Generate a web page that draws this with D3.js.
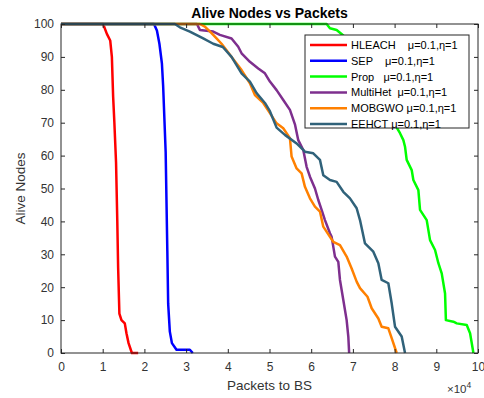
<!DOCTYPE html>
<html>
<head>
<meta charset="utf-8">
<script src="https://cdn.jsdelivr.net/npm/d3@7"></script>
<style>
  body { margin: 0; background: #fff; }
  text { font-family: "Liberation Sans", Arial, sans-serif; }
</style>
</head>
<body>
<div id="vis"></div>
<script>
// Data (x in units of 10^4 packets, y = alive nodes)
let hleach = [[0,100],[1.01,100],[1.10,97],[1.18,95],[1.22,90],[1.25,78],[1.28,70],[1.32,58],[1.35,40],[1.37,26],[1.40,12],[1.45,10],[1.53,9],[1.57,6],[1.62,3],[1.70,0],[1.85,0]];
let sep = [[0,100],[2.23,100],[2.30,98],[2.36,94],[2.42,88],[2.45,81],[2.51,61],[2.55,31],[2.57,15],[2.61,6.5],[2.66,3],[2.77,1],[3.09,1],[3.16,0]];
let prop = [[0,100],[6.37,100],[6.45,98.7],[6.61,98.2],[6.77,96.5],[7.2,88],[7.7,76],[8.13,66.8],[8.21,64.7],[8.25,62.7],[8.29,58.7],[8.41,55.6],[8.45,52.6],[8.57,49.5],[8.61,43.5],[8.77,40.4],[8.85,34.3],[8.97,31.3],[9.05,27.3],[9.13,24.2],[9.21,18.1],[9.23,10],[9.41,9.5],[9.49,9],[9.73,8.5],[9.81,6],[9.89,0]];
let multihet = [[0,100],[3.26,100],[3.33,98.2],[3.65,97.7],[3.81,96.7],[4.09,95.6],[4.25,93.1],[4.33,91.1],[4.53,88.5],[4.73,86.5],[4.89,85],[5.01,82.5],[5.17,79.9],[5.33,76.9],[5.49,73.9],[5.61,69.5],[5.69,64.7],[5.81,61.7],[5.89,56.6],[5.97,53.6],[6.09,50],[6.17,46.5],[6.25,43.5],[6.33,40.4],[6.45,36.4],[6.49,35.3],[6.57,29.3],[6.65,27.7],[6.69,22.2],[6.77,16.1],[6.85,10],[6.89,5],[6.91,0]];
let mobgwo = [[0,100],[3.33,100],[3.45,99.2],[3.61,97.2],[3.73,95.6],[3.85,94],[3.97,92],[4.09,90],[4.21,88],[4.33,86],[4.53,82],[4.65,78.4],[4.85,76],[5.01,72.9],[5.17,69.8],[5.33,68.3],[5.49,65.3],[5.53,59.7],[5.65,56.1],[5.77,54.6],[5.85,50.5],[5.97,47],[6.09,44.5],[6.21,43],[6.29,38.4],[6.45,35.3],[6.53,33.8],[6.69,32.8],[6.85,29.3],[6.97,25.7],[7.09,21.7],[7.17,19.7],[7.35,17.1],[7.45,13.6],[7.61,10.5],[7.69,8],[7.85,7.5],[7.93,4.5],[8.05,0]];
let eehct = [[0,100],[2.73,100],[2.85,99],[3.09,97.7],[3.41,95.6],[3.65,94],[3.88,93],[4.09,90],[4.21,87.5],[4.33,85],[4.53,82.5],[4.69,79],[4.89,76],[5.01,73.5],[5.17,68.5],[5.37,66.3],[5.65,63.7],[5.85,61.2],[6.05,60.7],[6.21,58.7],[6.29,54],[6.45,52.6],[6.61,52],[6.77,49],[6.93,47],[7.09,44],[7.17,40.4],[7.29,33.3],[7.49,30.8],[7.61,27.3],[7.69,22.2],[7.85,21.2],[7.93,15.1],[8.01,8],[8.17,5],[8.25,0]];

let seriesNames = ['HLEACH    \u03bc=0.1,\u03b7=1', 'SEP    \u03bc=0.1,\u03b7=1', 'Prop   \u03bc=0.1,\u03b7=1', 'MultiHet  \u03bc=0.1,\u03b7=1', 'MOBGWO \u03bc=0.1,\u03b7=1', 'EEHCT \u03bc=0.1,\u03b7=1'];
let seriesColors = ['#ff0000', '#0000ff', '#00ff00', '#7e2f8e', '#ff8000', '#30627a'];
let seriesData = [hleach, sep, prop, multihet, mobgwo, eehct];

let xTicks = d3.range(0, 11, 1);
let yTicks = d3.range(0, 101, 10);

// SVG
let width = 484, height = 398;
let margin = { top: 24, bottom: 45, left: 61, right: 6 };

let svg = d3.select('#vis')
  .append('svg')
  .attr('width', width)
  .attr('height', height);

// Scales
let xScale = d3.scaleLinear()
  .domain([0, 10])
  .range([margin.left, width - margin.right]);

let yScale = d3.scaleLinear()
  .domain([0, 100])
  .range([height - margin.bottom, margin.top]);

let axisColor = '#262626';

// Lines
let line = d3.line()
  .x(function(d) { return xScale(d[0]); })
  .y(function(d) { return yScale(d[1]); });

svg.append('clipPath').attr('id', 'clip')
  .append('rect')
    .attr('x', margin.left - 2)
    .attr('y', margin.top - 2)
    .attr('width', width - margin.left - margin.right + 4)
    .attr('height', height - margin.top - margin.bottom + 4);

svg.append('g')
  .attr('clip-path', 'url(#clip)')
  .selectAll('path')
    .data(seriesData)
  .enter()
  .append('path')
    .attr('d', line)
    .attr('fill', 'none')
    .attr('stroke', function(d, i) { return seriesColors[i]; })
    .attr('stroke-width', 2.5)
    .attr('stroke-linejoin', 'round');

// Axes (MATLAB box style, ticks inward)
function styleAxis(g) {
  g.select('.domain').remove();
  g.selectAll('line').attr('stroke', axisColor);
  g.selectAll('text')
    .attr('fill', '#333')
    .style('font-size', '12px')
    .style('font-family', '"Liberation Sans", Arial, sans-serif');
}

svg.append('g')
  .attr('transform', `translate(0,${height - margin.bottom})`)
  .call(d3.axisBottom(xScale).tickValues(xTicks).tickSize(-4).tickPadding(9).tickFormat(d3.format('d')))
  .call(styleAxis);

svg.append('g')
  .attr('transform', `translate(0,${margin.top})`)
  .call(d3.axisTop(xScale).tickValues(xTicks).tickSize(-4).tickFormat(''))
  .call(styleAxis);

svg.append('g')
  .attr('transform', `translate(${margin.left},0)`)
  .call(d3.axisLeft(yScale).tickValues(yTicks).tickSize(-4).tickPadding(7))
  .call(styleAxis);

svg.append('g')
  .attr('transform', `translate(${width - margin.right},0)`)
  .call(d3.axisRight(yScale).tickValues(yTicks).tickSize(-4).tickFormat(''))
  .call(styleAxis);

// Box
svg.append('rect')
  .attr('x', margin.left)
  .attr('y', margin.top)
  .attr('width', width - margin.left - margin.right)
  .attr('height', height - margin.top - margin.bottom)
  .attr('fill', 'none')
  .attr('stroke', axisColor)
  .attr('stroke-width', 1);

// Title and labels
let cx = (xScale(0) + xScale(10)) / 2;
svg.append('text')
  .attr('x', cx)
  .attr('y', 18)
  .attr('text-anchor', 'middle')
  .style('font-size', '14px')
  .style('font-weight', 'bold')
  .attr('fill', '#000')
  .text('Alive Nodes vs Packets');

svg.append('text')
  .attr('x', cx)
  .attr('y', 390)
  .attr('text-anchor', 'middle')
  .style('font-size', '13.5px')
  .attr('fill', '#333')
  .text('Packets to BS');

svg.append('text')
  .attr('transform', `translate(25,${(yScale(0) + yScale(100)) / 2}) rotate(-90)`)
  .attr('text-anchor', 'middle')
  .style('font-size', '13.5px')
  .attr('fill', '#333')
  .text('Alive Nodes');

let mult = svg.append('text')
  .attr('x', 447)
  .attr('y', 393)
  .style('font-size', '11.5px')
  .attr('fill', '#333');
mult.append('tspan').text('\u00d710');
mult.append('tspan').attr('dy', -5).style('font-size', '8.5px').text('4');

// Legend
let legend = svg.append('g').attr('transform', 'translate(305,35)');
legend.append('rect')
  .attr('width', 164)
  .attr('height', 93)
  .attr('fill', '#fff')
  .attr('stroke', axisColor)
  .attr('stroke-width', 1);

let items = legend.selectAll('g.item')
  .data(seriesNames)
  .enter()
  .append('g')
    .attr('class', 'item')
    .attr('transform', function(d, i) { return `translate(0,${10 + i * 15.8})`; });

items.append('line')
  .attr('x1', 5)
  .attr('x2', 42)
  .attr('stroke', function(d, i) { return seriesColors[i]; })
  .attr('stroke-width', 2.5);

items.append('text')
  .attr('x', 46)
  .attr('dy', '0.36em')
  .style('font-size', '11px')
  .style('white-space', 'pre')
  .attr('fill', '#000')
  .text(function(d) { return d; });
</script>
</body>
</html>
